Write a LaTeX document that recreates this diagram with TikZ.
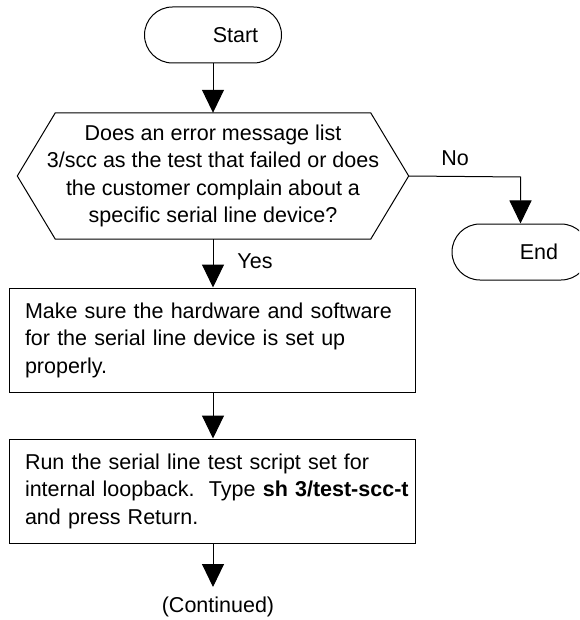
\documentclass[tikz,border=0pt]{standalone}
\usepackage{fontspec}
\setmainfont{Liberation Sans}
\usetikzlibrary{arrows.meta}
\begin{document}
\begin{tikzpicture}[x=1pt,y=-1pt,
  font=\fontsize{21.5pt}{27.5pt}\selectfont,
  every node/.style={inner sep=0pt},
  term/.style={draw, line width=1pt, rounded corners=28pt, minimum width=137pt, minimum height=56pt},
  procbox/.style={draw, line width=1pt, minimum width=406pt, minimum height=104pt, text width=374pt, inner xsep=16pt, align=left},
  conn/.style={line width=1pt, -{Triangle[width=22pt,length=23pt]}},
  lbl/.style={}
]
\useasboundingbox (0,0) rectangle (579,620);
\begin{scope}
\clip (0,0) rectangle (579,620);
\node[term] (start) at (213,35) {\hspace*{45pt}Start};
\node[minimum width=391pt, minimum height=126pt, align=center] (dec) at (213,176)
  {Does an error message list\\ 3/scc as the test that failed or does\\ the customer complain about a\\ specific serial line device?};
\draw[line width=1pt] ([xshift=38pt]dec.north west) -- ([xshift=-38pt]dec.north east) -- (dec.east)
  -- ([xshift=-38pt]dec.south east) -- ([xshift=38pt]dec.south west) -- (dec.west) -- cycle;
\node[term] (end) at (520.5,252) {\hspace*{37pt}End};
\node[procbox] (box1) at (212,340)
  {\mbox{Make sure the hardware and software}\\ \mbox{for the serial line device is set up}\\ properly.};
\node[procbox] (box2) at (212,491)
  {\mbox{Run the serial line test script set for}\\ \mbox{internal loopback.\ \ Type \textbf{sh 3/test-scc-t}}\\ \mbox{and press Return.}};
\coordinate (cont) at (213,587);
\node[lbl] (conttext) at (218,607) {(Continued)};
\coordinate (bend) at (520.5,177);

\draw[conn] (start.south) -- (start.south |- dec.north);
\draw[conn] (start.south |- dec.south) -- (start.south |- box1.north);
\draw[conn] (start.south |- box1.south) -- (start.south |- box2.north);
\draw[conn] (start.south |- box2.south) -- (cont);
\draw[conn] (dec.east) -- (bend) -- (end.north);
\node[lbl] (yes) at (255,261) {Yes};
\node[lbl] (no) at (455,158) {No};
\end{scope}
\end{tikzpicture}
\end{document}
